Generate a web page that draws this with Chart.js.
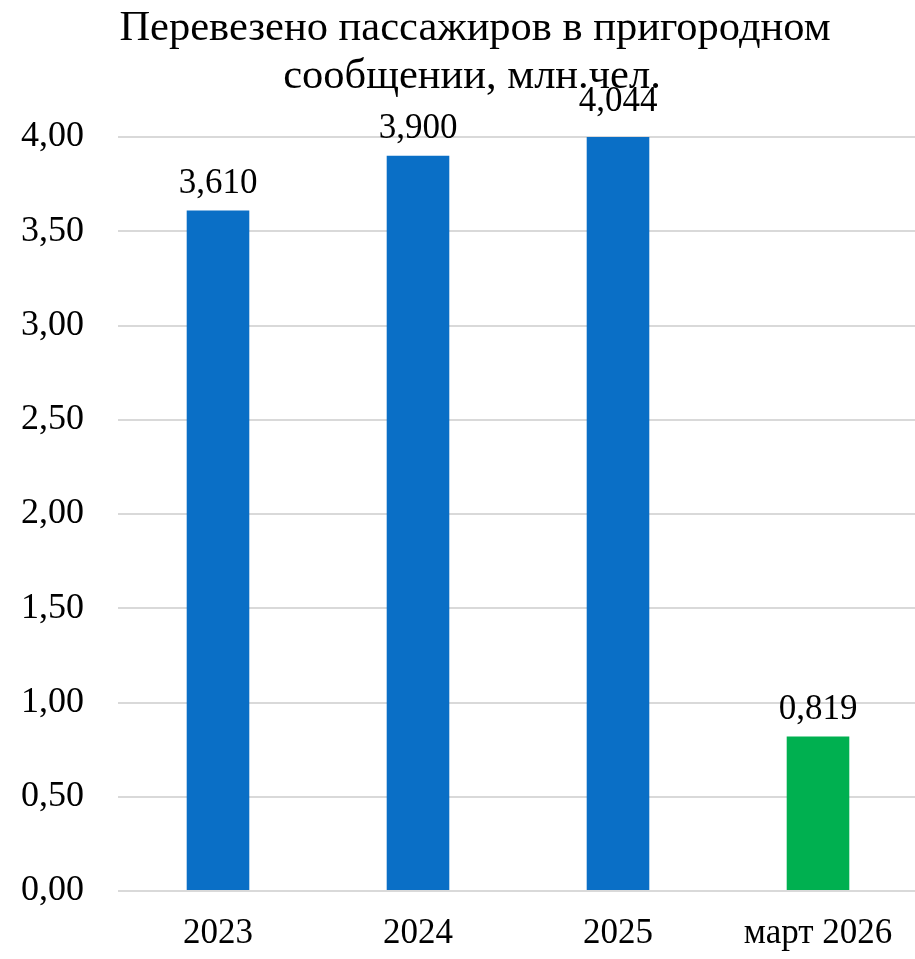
<!DOCTYPE html>
<html>
<head>
<meta charset="utf-8">
<script src="https://cdn.jsdelivr.net/npm/chart.js@4"></script>
<style>
  html, body { margin: 0; padding: 0; background: #fff; overflow: hidden; }
  #wrap { width: 918px; height: 959px; }
</style>
</head>
<body>
<div id="wrap"><canvas id="chart" width="918" height="959"></canvas></div>
<script>
// data
const categories = ["2023", "2024", "2025", "март 2026"];
const passengers = [3.61, 3.9, 4.044, 0.819];
const barColors = ["#0A6FC6", "#0A6FC6", "#0A6FC6", "#00B050"];
const titleLines = ["Перевезено пассажиров в пригородном", "сообщении, млн.чел."];

const SERIF = "'Liberation Serif', 'Times New Roman', serif";
const comma = (v, d) => v.toFixed(d).replace(".", ",");

// value labels above the bars
const valueLabels = {
  id: "valueLabels",
  afterDatasetsDraw(chart) {
    const ctx = chart.ctx;
    const meta = chart.getDatasetMeta(0);
    ctx.save();
    ctx.font = "35px " + SERIF;
    ctx.fillStyle = "#000";
    ctx.textAlign = "center";
    ctx.textBaseline = "alphabetic";
    meta.data.forEach((bar, i) => {
      ctx.fillText(comma(passengers[i], 3), bar.x, bar.y - 18);
    });
    ctx.restore();
  },
};

// two-line title, drawn without taking room from the plot
const titleText = {
  id: "titleText",
  beforeDatasetsDraw(chart) {
    const ctx = chart.ctx;
    ctx.save();
    ctx.font = "42.5px " + SERIF;
    ctx.fillStyle = "#000";
    ctx.textAlign = "center";
    ctx.textBaseline = "alphabetic";
    ctx.fillText(titleLines[0], 475, 40);
    ctx.fillText(titleLines[1], 472, 88);
    ctx.restore();
  },
};

new Chart(document.getElementById("chart").getContext("2d"), {
  type: "bar",
  data: {
    labels: categories,
    datasets: [
      {
        data: passengers,
        backgroundColor: barColors,
        borderWidth: 0,
        categoryPercentage: 1,
        barPercentage: 0.313,
      },
    ],
  },
  options: {
    responsive: false,
    animation: false,
    layout: { padding: { top: 137, right: 0, left: 0, bottom: 0 } },
    plugins: {
      legend: { display: false },
      tooltip: { enabled: false },
      title: { display: false },
    },
    scales: {
      x: {
        grid: { display: false },
        border: { display: false },
        ticks: { color: "#000", font: { family: SERIF, size: 35 }, padding: 14, maxRotation: 0 },
        afterFit: (s) => { s.height = 68; },
      },
      y: {
        min: 0,
        max: 4,
        grid: { color: "#d9d9d9", lineWidth: 2, drawTicks: false },
        border: { display: false },
        ticks: {
          stepSize: 0.5,
          color: "#000",
          font: { family: SERIF, size: 36 },
          padding: 34,
          callback: (v) => comma(v, 2),
        },
        afterFit: (s) => { s.width = 118; },
      },
    },
  },
  plugins: [titleText, valueLabels],
});
</script>
</body>
</html>
